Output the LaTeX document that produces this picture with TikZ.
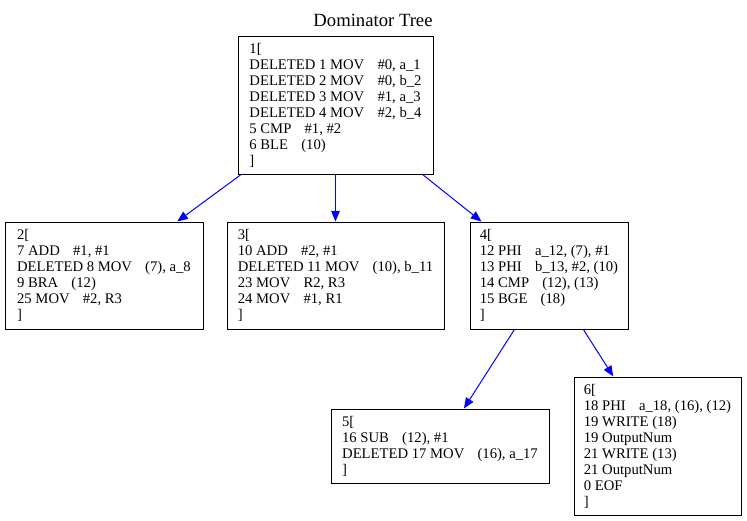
\documentclass[tikz,border=0pt]{standalone}
\usepackage{fontspec}
\setmainfont{Liberation Serif}
\usetikzlibrary{arrows.meta}
\newcommand{\gp}{\hspace{0.9em}}

\begin{document}
\begin{tikzpicture}[x=0.75pt, y=-0.75pt,
    blk/.style={draw, line width=0.75pt, align=left, inner sep=0pt,
      font=\fontsize{11}{12}\selectfont},
    dom/.style={blue, line width=0.75pt, -{Triangle[length=8pt, width=6.5pt]}}]
  \useasboundingbox (0,0) rectangle (747,521);
  \node (title) at (373,20) {\fontsize{14}{16}\selectfont Dominator Tree};
  % blocks
  \node[blk, minimum width=195*0.75pt, minimum height=138*0.75pt] (b1) at (335.5,105)
    {1[\\DELETED 1 MOV\gp\#0, a\_1\\DELETED 2 MOV\gp\#0, b\_2\\DELETED 3 MOV\gp\#1, a\_3\\DELETED 4 MOV\gp\#2, b\_4\\5 CMP\gp\#1, \#2\\6 BLE\gp(10)\\]};
  \node[blk, minimum width=198*0.75pt, minimum height=107*0.75pt] (b2) at (104,275.5)
    {2[\\7 ADD\gp\#1, \#1\\DELETED 8 MOV\gp(7), a\_8\\9 BRA\gp(12)\\25 MOV\gp\#2, R3\\]};
  \node[blk, minimum width=217*0.75pt, minimum height=107*0.75pt] (b3) at (335.5,275.5)
    {3[\\10 ADD\gp\#2, \#1\\DELETED 11 MOV\gp(10), b\_11\\23 MOV\gp R2, R3\\24 MOV\gp\#1, R1\\]};
  \node[blk, minimum width=158*0.75pt, minimum height=107*0.75pt] (b4) at (549,275.5)
    {4[\\12 PHI\gp a\_12, (7), \#1\\13 PHI\gp b\_13, \#2, (10)\\14 CMP\gp(12), (13)\\15 BGE\gp(18)\\]};
  \node[blk, minimum width=218*0.75pt, minimum height=74*0.75pt] (b5) at (440,446)
    {5[\\16 SUB\gp(12), \#1\\DELETED 17 MOV\gp(16), a\_17\\]};
  \node[blk, minimum width=167*0.75pt, minimum height=138*0.75pt] (b6) at (657.5,446)
    {6[\\18 PHI\gp a\_18, (16), (12)\\19 WRITE (18)\\19 OutputNum\\21 WRITE (13)\\21 OutputNum\\0 EOF\\]};
  % edges
  \draw[dom] (b1) -- (b2);
  \draw[dom] (b1) -- (b3);
  \draw[dom] (b1) -- (b4);
  \draw[dom] (b4) -- (b5);
  \draw[dom] (b4) -- (b6);
\end{tikzpicture}
\end{document}
